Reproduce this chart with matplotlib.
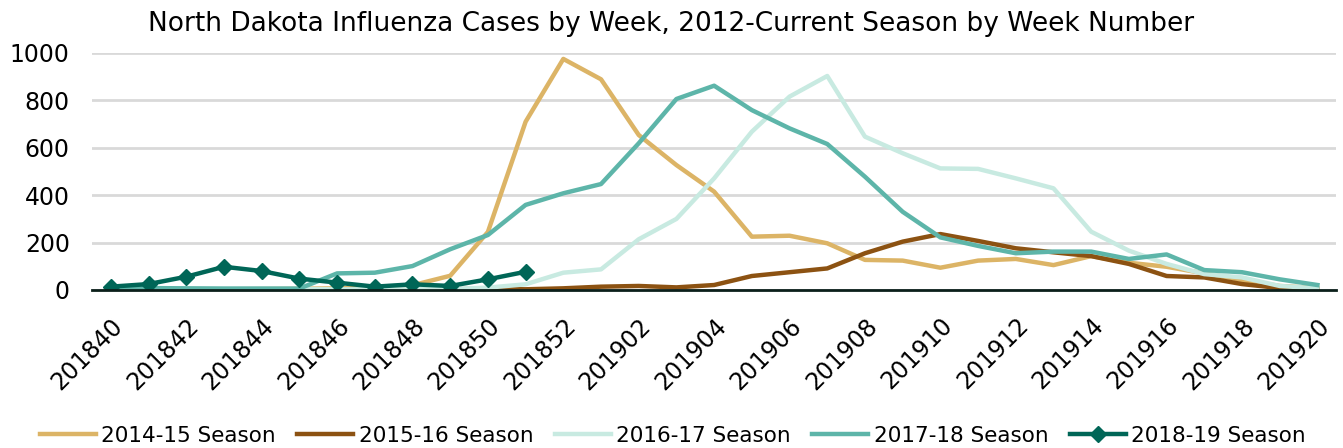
import numpy as np
import matplotlib as mpl
mpl.use('Agg')
import matplotlib.pyplot as plt

plt.rcParams['font.family'] = ['DejaVu Sans']

# weeks 201840..201852, 201901..201920
weeks = [str(201800 + w) for w in range(40, 53)] + [str(201900 + w) for w in range(1, 21)]

s1415 = [2, 3, 3, 3, 4, 5, 7, 10, 20, 60, 245, 710, 975, 889, 654, 527, 415, 225, 229, 197,
         127, 124, 94, 124, 131, 105, 143, 115, 98, 70, 42, 17, 8]
s1516 = [1, 1, 1, 1, 1, 1, 1, 1, 2, 3, 5, 3, 7, 14, 17, 11, 21, 59, 75, 91,
         155, 204, 236, 207, 176, 159, 143, 110, 59, 53, 25, 8, 4]
s1617 = [5, 6, 5, 5, 5, 4, 3, 3, 3, 4, 10, 24, 73, 87, 214, 300, 471, 668, 816, 903,
         647, 577, 513, 511, 471, 429, 246, 166, 110, 67, 53, 17, 7]
s1718 = [10, 8, 7, 6, 6, 6, 70, 73, 101, 172, 232, 359, 408, 447, 619, 806, 862, 759, 682, 616,
         478, 330, 222, 186, 155, 162, 162, 131, 150, 84, 75, 45, 21]
s1819 = [14, 25, 56, 98, 80, 48, 31, 14, 24, 17, 45, 77]

labels = ['2014-15 Season', '2015-16 Season', '2016-17 Season', '2017-18 Season', '2018-19 Season']
colors = ['#DCB466', '#8C5212', '#C8EAE1', '#5DB5A9', '#006657']

fig = plt.figure(figsize=(13.43, 4.48), dpi=100)
ax = fig.add_axes([0.0685, 0.3527, 0.9265, 0.529])

x = np.arange(len(weeks))
for s, c, lab in zip([s1415, s1516, s1617, s1718], colors[:4], labels[:4]):
    ax.plot(x[:len(s)], s, '-', color=c, lw=3.2, label=lab)
ax.plot(x[:len(s1819)], s1819, '-D', color=colors[4], lw=3.2, ms=8, label=labels[4])

ax.set_xlim(-0.5, len(weeks) - 0.5)
ax.set_ylim(0, 1000)
ax.set_yticks(range(0, 1001, 200))
ax.set_xticks(x[::2])
ax.set_xticklabels(weeks[::2], rotation=45, ha='right', rotation_mode='anchor', fontsize=17)
ax.tick_params(axis='y', labelsize=17, length=0, pad=16)
ax.tick_params(axis='x', length=0, pad=17)
ax.grid(axis='y', color='#D9D9D9', lw=2)
ax.set_axisbelow(True)
for sp in ['top', 'right', 'left']:
    ax.spines[sp].set_visible(False)
ax.spines['bottom'].set_color('#0B1F1A')
ax.spines['bottom'].set_linewidth(2)
ax.spines['bottom'].set_zorder(5)

fig.text(0.5, 0.947, 'North Dakota Influenza Cases by Week, 2012-Current Season by Week Number',
         ha='center', va='center', fontsize=19)

fig.legend(loc='center', bbox_to_anchor=(0.501, 1 - 436 / 448), ncol=5, frameon=False, fontsize=15.5,
           handlelength=2.6, handletextpad=0.25, columnspacing=1.0)

fig.savefig('out.png', dpi=100)
